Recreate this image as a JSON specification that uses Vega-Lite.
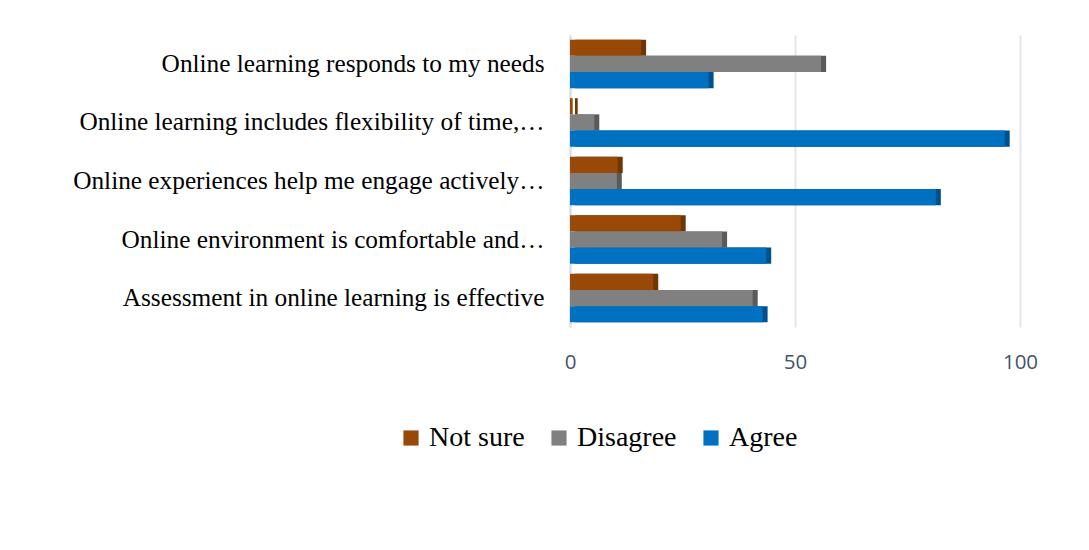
{
  "$schema": "https://vega.github.io/schema/vega-lite/v6.json",
  "width": 450,
  "height": 292,
  "autosize": {"type": "none"},
  "padding": {"left": 570, "top": 35, "right": 69, "bottom": 223},
  "background": "white",
  "config": {"view": {"stroke": null}},
  "data": {"values": [
    {"item": "Online learning responds to my needs", "response": "Not sure", "value": 15.8},
    {"item": "Online learning responds to my needs", "response": "Disagree", "value": 55.8},
    {"item": "Online learning responds to my needs", "response": "Agree", "value": 30.8},
    {"item": "Online learning includes flexibility of time,…", "response": "Not sure", "value": 0.6},
    {"item": "Online learning includes flexibility of time,…", "response": "Disagree", "value": 5.4},
    {"item": "Online learning includes flexibility of time,…", "response": "Agree", "value": 96.6},
    {"item": "Online experiences help me engage actively…", "response": "Not sure", "value": 10.6},
    {"item": "Online experiences help me engage actively…", "response": "Disagree", "value": 10.4},
    {"item": "Online experiences help me engage actively…", "response": "Agree", "value": 81.3},
    {"item": "Online environment is comfortable and…", "response": "Not sure", "value": 24.6},
    {"item": "Online environment is comfortable and…", "response": "Disagree", "value": 33.8},
    {"item": "Online environment is comfortable and…", "response": "Agree", "value": 43.6},
    {"item": "Assessment in online learning is effective", "response": "Not sure", "value": 18.5},
    {"item": "Assessment in online learning is effective", "response": "Disagree", "value": 40.6},
    {"item": "Assessment in online learning is effective", "response": "Agree", "value": 42.8}
  ]},
  "encoding": {
    "y": {
      "field": "item", "type": "nominal", "sort": null,
      "scale": {"paddingInner": 0.17, "paddingOuter": 0.08},
      "axis": {"title": null, "ticks": false, "domain": true, "domainColor": "#d9dde6", "domainWidth": 2, "labelFont": "Liberation Serif", "labelFontSize": 25.3, "labelColor": "#000000", "labelPadding": 26, "labelLimit": 600}
    },
    "yOffset": {"field": "response", "type": "nominal", "sort": ["Not sure", "Disagree", "Agree"], "scale": {"paddingInner": 0}},
    "x": {
      "field": "value", "type": "quantitative",
      "scale": {"domain": [0, 100], "nice": false},
      "axis": {"title": null, "values": [0, 50, 100], "ticks": false, "domain": false, "grid": true, "gridColor": "#e3e6ee", "gridWidth": 2, "labelFont": "Open Sans", "labelFontSize": 20.5, "labelColor": "#44546a", "labelPadding": 25, "labelFlush": false}
    }
  },
  "layer": [
    {
      "mark": {"type": "bar", "xOffset": 5},
      "encoding": {
        "color": {"field": "response", "type": "nominal", "scale": {"domain": ["Not sure", "Disagree", "Agree"], "range": ["#6e3600", "#5a5a5a", "#00508c"]}, "legend": null}
      }
    },
    {
      "mark": {"type": "bar"},
      "encoding": {
        "color": {
          "field": "response", "type": "nominal",
          "scale": {"domain": ["Not sure", "Disagree", "Agree"], "range": ["#984807", "#808080", "#0070c0"]},
          "legend": {"title": null, "orient": "none", "direction": "horizontal", "legendX": -173, "legendY": 389, "symbolType": "square", "symbolSize": 230, "symbolStrokeWidth": 0, "labelFont": "Liberation Serif", "labelFontSize": 28, "labelColor": "#000000", "columnPadding": 20, "symbolOffset": 0, "labelOffset": 4}
        }
      }
    }
  ],
  "resolve": {"scale": {"color": "independent"}}
}
